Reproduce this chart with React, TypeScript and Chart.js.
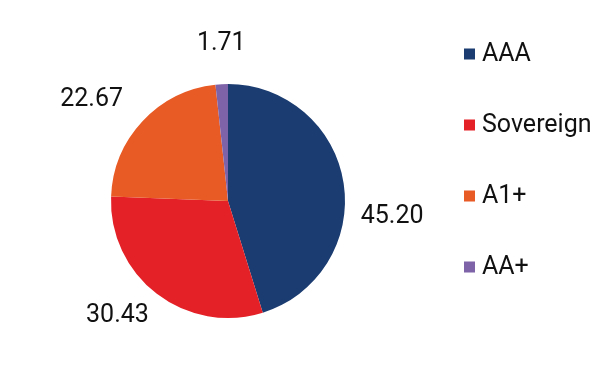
import React, { useEffect, useRef } from "react";
import { Chart, registerables } from "chart.js";

Chart.register(...registerables);

const categories: string[] = ["AAA", "Sovereign", "A1+", "AA+"];
const shares: number[] = [45.2, 30.43, 22.67, 1.71];
const valueLabels: string[] = ["45.20", "30.43", "22.67", "1.71"];
const sliceColors: string[] = ["#1b3c70", "#e32127", "#e85b25", "#7f63a8"];

// label placement tweaks (px) relative to the radial anchor
const labelNudges: number[][] = [
  [4, 40],
  [-12, -14],
  [-18, 9],
  [2, 5],
];

const LABEL_FONT = "25px Roboto";
const LEGEND_FONT = "25px Roboto";

const labelPlugin = {
  id: "sliceLabels",
  afterDatasetsDraw(chart: any) {
    const ctx = chart.ctx as CanvasRenderingContext2D;
    const meta = chart.getDatasetMeta(0);
    ctx.save();
    ctx.font = LABEL_FONT;
    ctx.fillStyle = "#111111";
    ctx.textAlign = "center";
    ctx.textBaseline = "middle";
    meta.data.forEach((arc: any, i: number) => {
      const p = arc.getProps(["x", "y", "startAngle", "endAngle", "outerRadius"], true);
      const mid = (p.startAngle + p.endAngle) / 2;
      const d = p.outerRadius + 45;
      const n = labelNudges[i] || [0, 0];
      const lx = p.x + Math.cos(mid) * d + n[0];
      const ly = p.y + Math.sin(mid) * d + n[1];
      ctx.fillText(valueLabels[i], lx, ly);
    });
    ctx.restore();
  },
};

const legendPlugin = {
  id: "sideLegend",
  afterDraw(chart: any) {
    const ctx = chart.ctx as CanvasRenderingContext2D;
    const labels: string[] = chart.data.labels;
    const colors: string[] = chart.data.datasets[0].backgroundColor;
    const boxX = 464;
    const top = 54;
    const rowGap = 71;
    const box = 11;
    ctx.save();
    ctx.font = LEGEND_FONT;
    ctx.textAlign = "left";
    ctx.textBaseline = "middle";
    labels.forEach((lab, i) => {
      const cy = top + i * rowGap;
      ctx.fillStyle = colors[i];
      ctx.fillRect(boxX, cy - box / 2, box, box);
      ctx.fillStyle = "#111111";
      ctx.fillText(lab, boxX + box + 7, cy + 1);
    });
    ctx.restore();
  },
};

export default function App() {
  const ref = useRef<HTMLCanvasElement | null>(null);
  useEffect(() => {
    if (!ref.current) return;
    const chart = new Chart(ref.current, {
      type: "pie",
      data: {
        labels: categories,
        datasets: [
          {
            data: shares,
            backgroundColor: sliceColors,
            borderWidth: 0,
          },
        ],
      },
      options: {
        responsive: false,
        animation: false,
        layout: { padding: { left: 111, top: 84, right: 266, bottom: 54 } },
        plugins: {
          legend: { display: false },
          tooltip: { enabled: false },
        },
      },
      plugins: [labelPlugin, legendPlugin],
    });
    return () => chart.destroy();
  }, []);
  return (
    <div style={{ position: "fixed", left: 0, top: 0, width: 611, height: 372, background: "#ffffff" }}>
      <canvas ref={ref} width={611} height={372} />
    </div>
  );
}
